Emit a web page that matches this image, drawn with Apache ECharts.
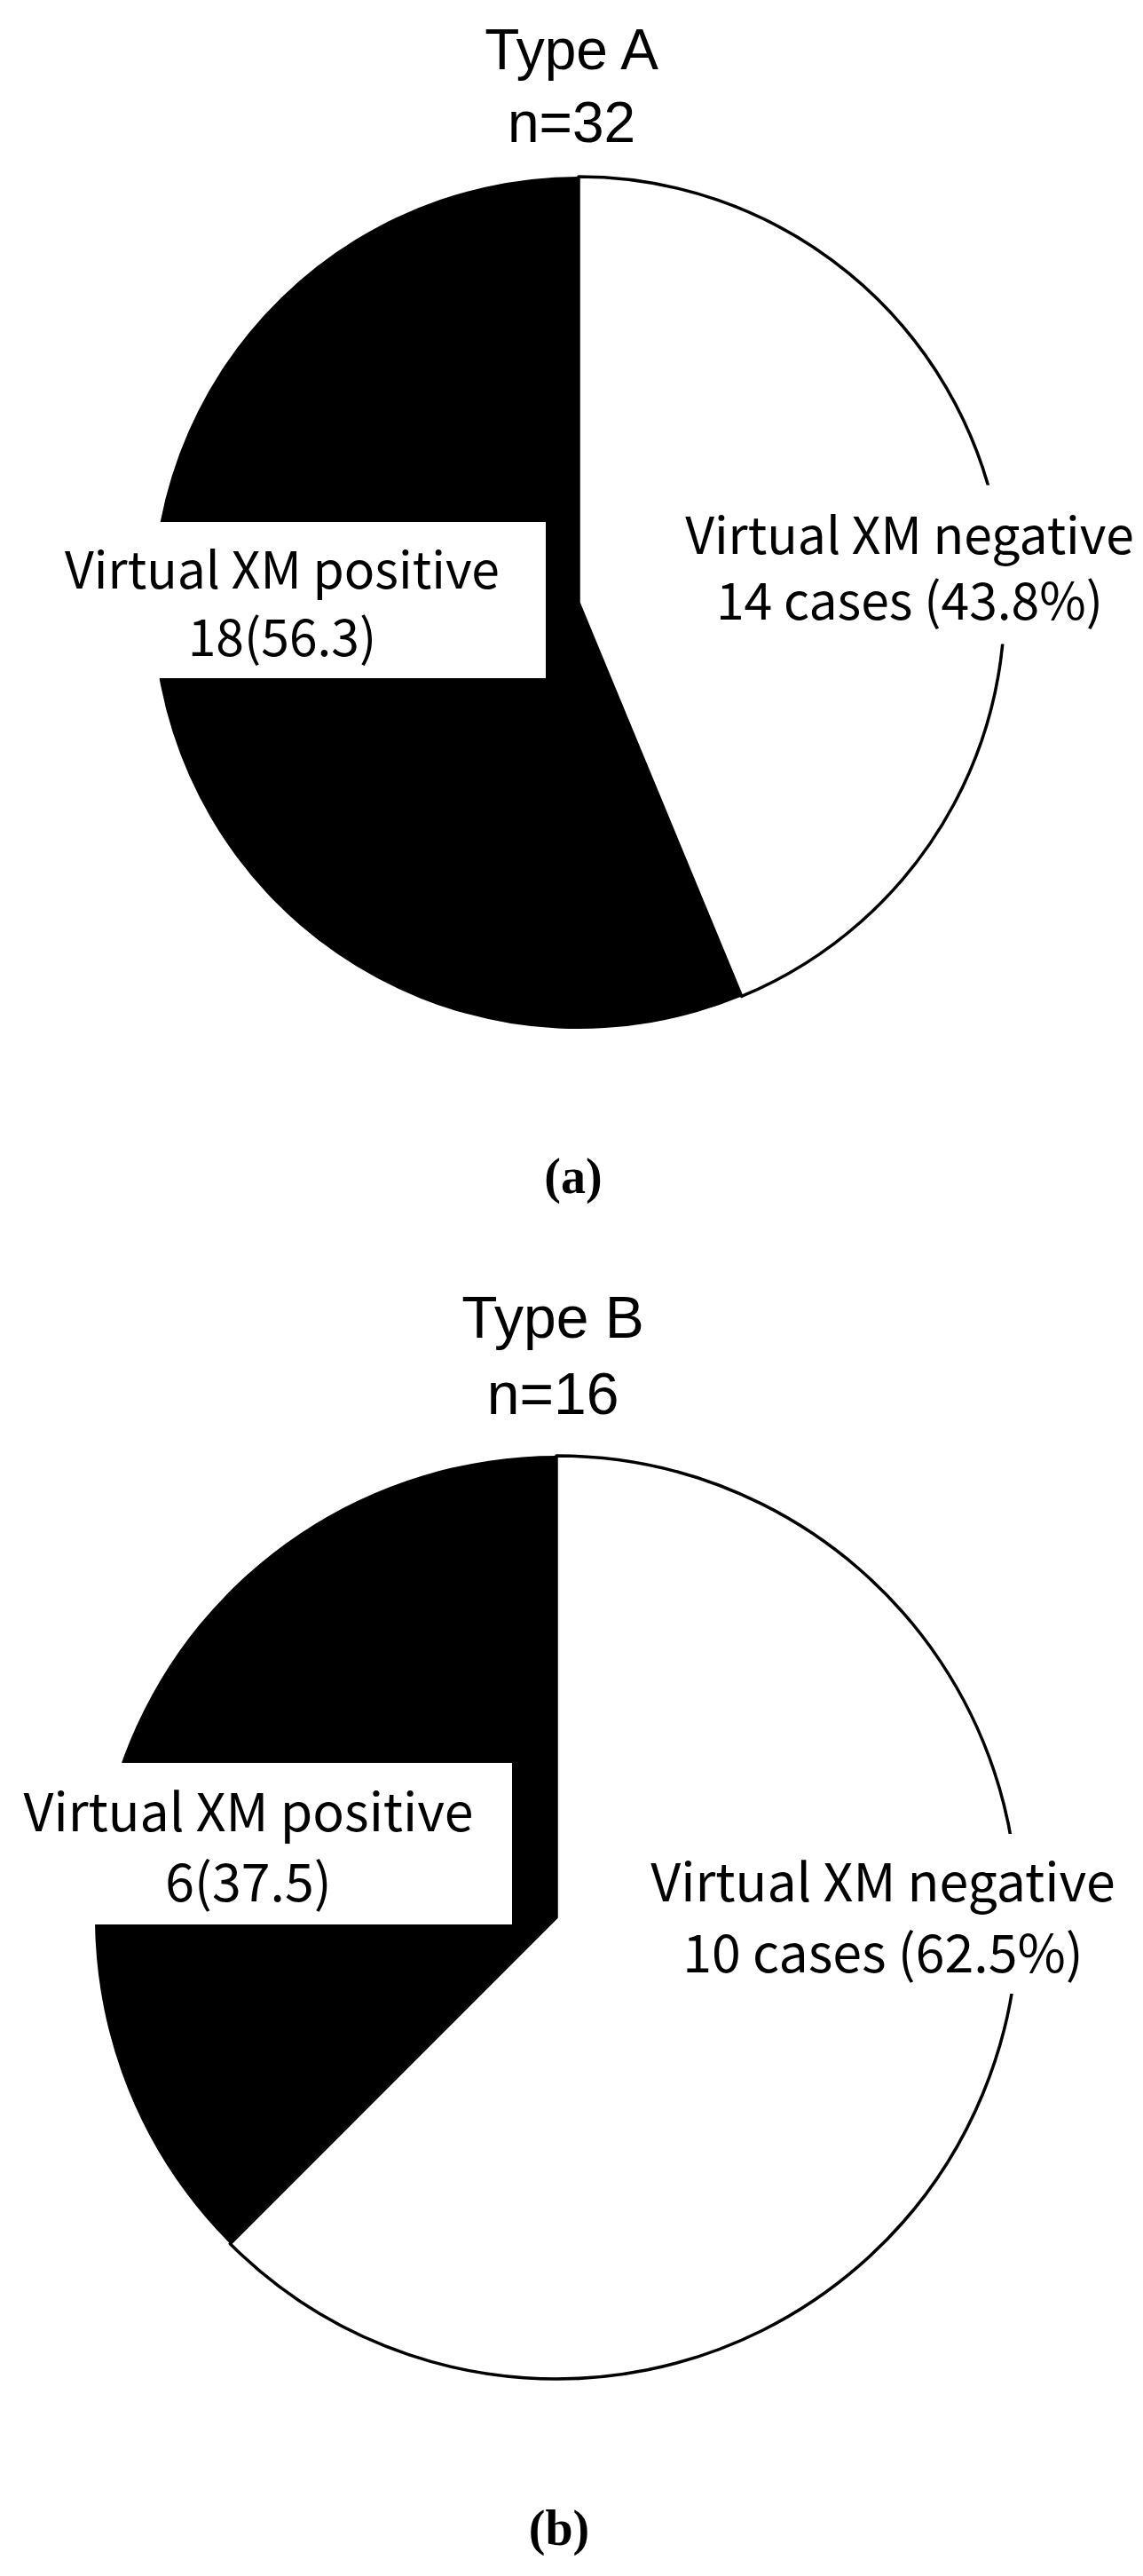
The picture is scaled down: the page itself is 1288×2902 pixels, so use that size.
<!DOCTYPE html>
<html>
<head>
<meta charset="utf-8">
<script src="https://cdn.jsdelivr.net/npm/echarts@6/dist/echarts.min.js"></script>
<style>
html,body{margin:0;padding:0;background:#fff;}
#c{width:1288px;height:2902px;}
</style>
</head>
<body>
<div id="c"></div>
<script>
// ---- data ----
const panelTitles = ['Type A', 'Type B'];
const panelN = [32, 16];
const panelCaptions = ['(a)', '(b)'];
const sliceNames = ['Virtual XM negative', 'Virtual XM positive'];
const countsA = [14, 18];
const percentsA = [43.8, 56.3];
const countsB = [10, 6];
const percentsB = [62.5, 37.5];

// ---- helpers ----
const LABEL_FONT = '"Noto Sans CJK JP", "Noto Sans", sans-serif';
function labelText(i, count, pct) {
  return i === 0
    ? sliceNames[i] + '\n' + count + ' cases (' + pct.toFixed(1) + '%)'
    : sliceNames[i] + '\n' + count + '(' + pct.toFixed(1) + ')';
}

function pieSeries(counts, pcts, center, radius, fontSize, labelCfg) {
  return {
    type: 'pie',
    center: center,
    radius: radius,
    startAngle: 90,
    clockwise: true,
    silent: true,
    animation: false,
    avoidLabelOverlap: false,
    labelLine: { show: false },
    emphasis: { disabled: true },
    data: counts.map(function (v, i) {
      const c = labelCfg[i];
      return {
        value: v,
        name: sliceNames[i],
        itemStyle: i === 0
          ? { color: '#ffffff', borderColor: '#000000', borderWidth: 3.5 }
          : { color: '#000000', borderWidth: 0 },
        label: {
          show: true,
          position: 'inside',
          formatter: labelText(i, v, pcts[i]),
          color: '#000',
          fontFamily: LABEL_FONT,
          fontSize: fontSize,
          lineHeight: c.lh,
          backgroundColor: '#ffffff',
          padding: c.pad,
          width: c.w,
          align: 'center',
          overflow: 'none'
        }
      };
    }),
    labelLayout: function (p) {
      const c = labelCfg[p.dataIndex];
      return { x: c.x, y: c.y, align: 'center', verticalAlign: 'middle' };
    }
  };
}

const chart = echarts.init(document.getElementById('c'), null, { renderer: 'svg' });

const titleStyle = function (txt, size, lh) {
  return {
    text: txt,
    font: size + 'px "Liberation Sans", Arial, sans-serif',
    fill: '#000', align: 'center', textAlign: 'center',
    verticalAlign: 'top', textVerticalAlign: 'top', lineHeight: lh
  };
};
const capStyle = function (txt) {
  return {
    text: txt,
    font: 'bold 56px "Liberation Serif", "DejaVu Serif", serif',
    fill: '#000', align: 'center', textAlign: 'center',
    verticalAlign: 'middle', textVerticalAlign: 'middle'
  };
};

const option = {
  backgroundColor: '#ffffff',
  animation: false,
  graphic: [
    { type: 'text', x: 644, y: 15, silent: true, style: titleStyle(panelTitles[0] + '\nn=' + panelN[0], 64, 82) },
    { type: 'text', x: 623, y: 1441, silent: true, style: titleStyle(panelTitles[1] + '\nn=' + panelN[1], 66, 86) },
    { type: 'text', x: 646, y: 1325, silent: true, style: capStyle(panelCaptions[0]) },
    { type: 'text', x: 630, y: 2848, silent: true, style: capStyle(panelCaptions[1]) }
  ],
  series: [
    pieSeries(countsA, percentsA, [652, 679], 480, 57, [
      { x: 1025, y: 636, w: 500, lh: 74, pad: [25, 60, 6, 60] },
      { x: 318, y: 676, w: 488, lh: 76, pad: [18, 53, 6, 53] }
    ]),
    pieSeries(countsB, percentsB, [627, 2160], 520, 59, [
      { x: 995, y: 2156, w: 510, lh: 80, pad: [19, 60, 1, 60] },
      { x: 280, y: 2077, w: 510, lh: 79, pad: [16, 42, 8, 42] }
    ])
  ]
};
chart.setOption(option);
</script>
</body>
</html>
